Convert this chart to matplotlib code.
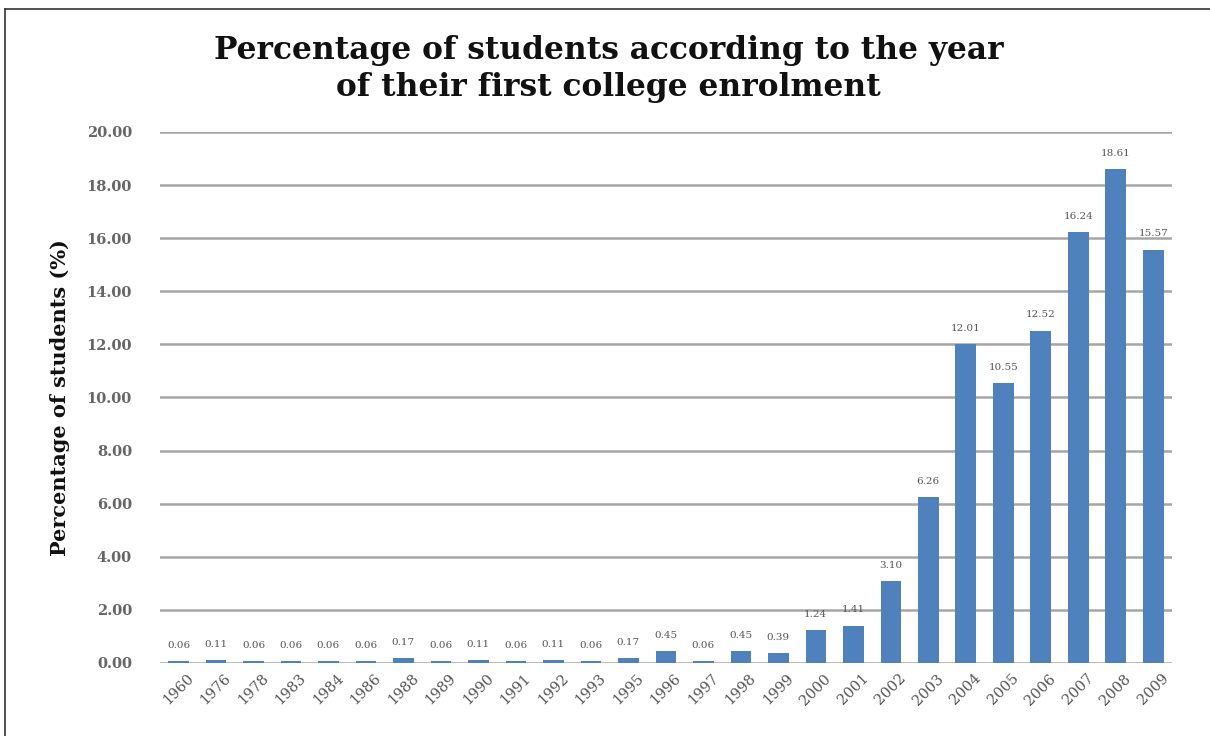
import matplotlib.pyplot as plt
from matplotlib.lines import Line2D

# data
years = ['1960', '1976', '1978', '1983', '1984', '1986', '1988', '1989', '1990',
         '1991', '1992', '1993', '1995', '1996', '1997', '1998', '1999', '2000',
         '2001', '2002', '2003', '2004', '2005', '2006', '2007', '2008', '2009']
percent = [0.06, 0.11, 0.06, 0.06, 0.06, 0.06, 0.17, 0.06, 0.11,
           0.06, 0.11, 0.06, 0.17, 0.45, 0.06, 0.45, 0.39, 1.24,
           1.41, 3.10, 6.26, 12.01, 10.55, 12.52, 16.24, 18.61, 15.57]
y_ticks = [0, 2, 4, 6, 8, 10, 12, 14, 16, 18, 20]

bar_color = '#4f81bd'
grid_color = '#a6a6a6'

plt.rcParams['font.family'] = ['DejaVu Serif']

fig = plt.figure(figsize=(12.1, 7.36), dpi=100)
ax = fig.add_axes([0.132, 0.0992, 0.8366, 0.7215])

x = list(range(len(years)))
ax.bar(x, percent, width=0.55, color=bar_color, zorder=3)

# value labels above each bar
for xi, v in zip(x, percent):
    ax.annotate(f'{v:.2f}', (xi, v), xytext=(0, 8), textcoords='offset points',
                ha='center', va='bottom', fontsize=7.5, color='#555555')

ax.set_xlim(-0.5, len(years) - 0.5)
ax.set_ylim(0, 20)
ax.set_yticks(y_ticks)
ax.set_yticklabels([f'{t:.2f}' for t in y_ticks], fontsize=10.5,
                   color='#666666', fontweight='bold')
ax.set_xticks(x)
# labels centred under each bar, like the spreadsheet original
ax.set_xticklabels(years, rotation=45, ha='center', va='top', fontsize=10.5,
                   color='#555555')
ax.tick_params(axis='both', length=0)
ax.tick_params(axis='y', pad=20)
ax.tick_params(axis='x', pad=6)

ax.yaxis.grid(True, color=grid_color, linewidth=1.8, zorder=0)
for s in ax.spines.values():
    s.set_visible(False)

ax.set_ylabel('Percentage of students (%)', fontsize=15, fontweight='bold',
              color='#111111', labelpad=12)

fig.text(0.503, 0.906, 'Percentage of students according to the year\nof their first college enrolment',
         ha='center', va='center', fontsize=22.5, fontweight='bold',
         color='#111111', linespacing=1.25)

# outer frame lines (top and left)
fig.add_artist(Line2D([5 / 1210, 1], [1 - 9 / 736, 1 - 9 / 736],
                      transform=fig.transFigure, color='#333333', linewidth=1.2))
fig.add_artist(Line2D([5 / 1210, 5 / 1210], [0, 1 - 9 / 736],
                      transform=fig.transFigure, color='#333333', linewidth=1.2))

fig.savefig('out.png', dpi=100)
